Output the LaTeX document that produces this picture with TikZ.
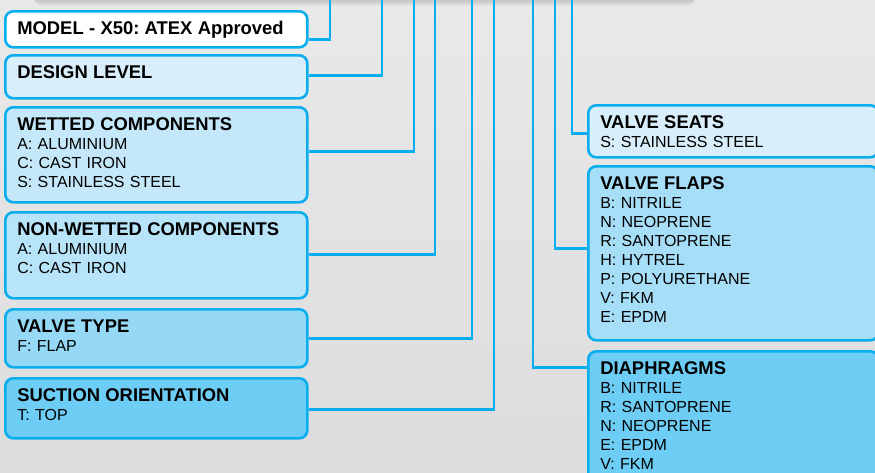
\documentclass[tikz,border=0pt]{standalone}
\usepackage{fontspec}
\setmainfont{Liberation Sans}
\usetikzlibrary{positioning}
\definecolor{wire}{HTML}{0AAEEF}
\definecolor{bgtop}{HTML}{E9E9E9}
\definecolor{bgbot}{HTML}{DCDCDC}
\definecolor{tintA}{HTML}{D8EFFB}
\definecolor{tintB}{HTML}{C4E8F9}
\definecolor{tintC}{HTML}{B7E4F8}
\definecolor{tintD}{HTML}{95D9F6}
\definecolor{tintE}{HTML}{6DCDF4}
\definecolor{tintF}{HTML}{A7DEF7}
\frenchspacing
\newcommand{\hd}[1]{{\bfseries\fontsize{18.4}{19}\selectfont #1}}

\begin{document}
\begin{tikzpicture}[x=1pt,y=-1pt,
  box/.style={draw=wire,line width=2.6pt,rounded corners=8pt,anchor=north west,align=left,
    inner xsep=12pt,inner ysep=10pt,text height=13pt,font=\fontsize{16}{19}\selectfont},
  lbox/.style={box,text width=278pt},
  rbox/.style={box,text width=266pt},
  link/.style={draw=wire,line width=2.6pt}]
\useasboundingbox (0,0) rectangle (875,472);
\shade[top color=bgtop,bottom color=bgbot] (0,0) rectangle (875,472);
\foreach \s in {1,...,8}{\fill[black,opacity=0.025,rounded corners=8pt] (30+\s*0.5,-30) rectangle (699-\s*0.5,-2+\s);}
\fill[bgtop,rounded corners=6pt] (34,-30) rectangle (695,-1);
\node[lbox,fill=white,text depth=3pt] (model) at (4,10) {\hd{MODEL - X50: ATEX Approved}};
\node[lbox,fill=tintA,text depth=10pt] (design) at (4,54) {\hd{DESIGN LEVEL}};
\node[lbox,fill=tintB,text depth=62pt] (wetted) at (4,106) {\hd{WETTED COMPONENTS}\\A: ALUMINIUM\\C: CAST IRON\\S: STAINLESS STEEL};
\node[lbox,fill=tintC,text depth=53pt] (nonwetted) at (4,211) {\hd{NON-WETTED COMPONENTS}\\A: ALUMINIUM\\C: CAST IRON};
\node[lbox,fill=tintD,text depth=25pt] (valvetype) at (4,308) {\hd{VALVE TYPE}\\F: FLAP};
\node[lbox,fill=tintE,text depth=27pt] (suction) at (4,377) {\hd{SUCTION ORIENTATION}\\T: TOP};
\node[rbox,fill=tintA,text depth=19pt] (seats) at (587,104) {\hd{VALVE SEATS}\\S: STAINLESS STEEL};
\node[rbox,fill=tintF,text depth=141pt] (flaps) at (587,165) {\hd{VALVE FLAPS}\\B: NITRILE\\N: NEOPRENE\\R: SANTOPRENE\\H: HYTREL\\P: POLYURETHANE\\V: FKM\\E: EPDM};
\node[rbox,fill=tintE,text depth=100pt] (diaph) at (587,350) {\hd{DIAPHRAGMS}\\B: NITRILE\\R: SANTOPRENE\\N: NEOPRENE\\E: EPDM\\V: FKM};
\foreach \n/\x/\dy in {model/330/-10,design/382/1.5,wetted/414/3.5,nonwetted/435/1,valvetype/472/0,suction/494/-1}{
  \coordinate (top-\n) at (\x,-3);
  \draw[link] ([yshift=\dy pt]\n.east) -| (top-\n);
}
\foreach \n/\x/\dy in {seats/572/-2,flaps/555/5,diaph/533/50.5}{
  \coordinate (top-\n) at (\x,-3);
  \draw[link] (top-\n) |- ([yshift=\dy pt]\n.west);
}
\end{tikzpicture}
\end{document}
